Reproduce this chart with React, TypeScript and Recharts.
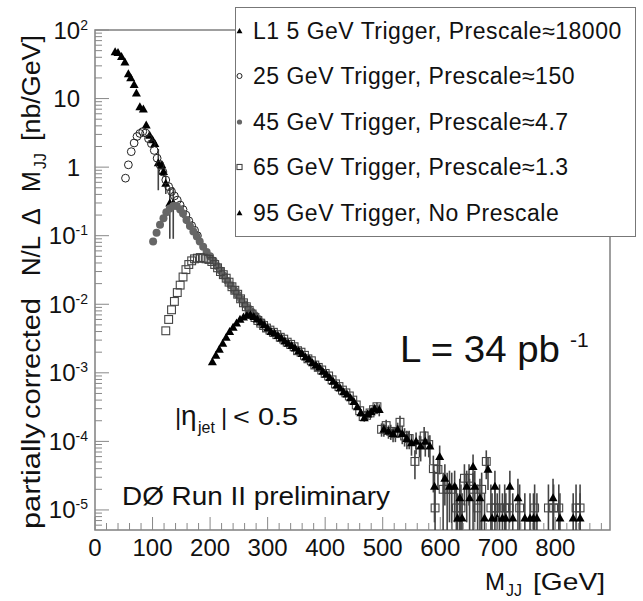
import React from "react";
import { ScatterChart, Scatter, XAxis, YAxis, ErrorBar, Legend, ReferenceArea } from "recharts";

const FONT = '"Liberation Sans", Arial, Helvetica, sans-serif';
const Y_MIN = 5.1e-6;
const Y_MAX = 100;
const X_MAX = 895;

// L1 5 GeV trigger, prescale ~18000 (black triangles)
const mL1 = [35, 40, 46, 52, 58, 62, 68, 72, 78, 84, 89, 95, 100, 104, 110, 116, 119, 123, 130, 136];
const vL1 = [48, 47, 41, 34, 23, 20, 16, 12, 7.6, 7.0, 4.1, 2.9, 2.5, 2.2, 1.15, 1.08, 0.86, 0.58, 0.3, 0.3];
const errL1: [number, number][] = [[110, 0.6], [116, 0.15], [119, 0.15], [123, 0.3], [130, 0.7], [136, 0.7]];

// 25 GeV trigger, prescale ~150 (open circles)
const m25 = [53, 58, 63, 68, 73, 78, 83, 88, 93, 98, 103, 108, 113, 118, 123, 128, 133, 138, 143, 148, 153, 158, 163, 168, 173, 178];
const v25 = [0.69, 1.08, 1.68, 2.25, 2.8, 3.1, 3.3, 3.15, 2.6, 2.2, 1.75, 1.35, 1.08, 0.85, 0.65, 0.52, 0.44, 0.38, 0.33, 0.28, 0.24, 0.2, 0.165, 0.14, 0.12, 0.1];

// 45 GeV trigger, prescale ~4.7 (grey dots)
const m45 = [101, 107, 113, 119, 124, 130, 136, 142, 148, 153, 159, 165, 171, 177, 182, 188, 194, 200, 206, 212, 218, 224, 230, 236, 242, 248, 254, 260, 266, 272, 278, 284, 290];
const v45 = [0.082, 0.11, 0.145, 0.18, 0.22, 0.25, 0.27, 0.27, 0.24, 0.21, 0.17, 0.138, 0.115, 0.097, 0.082, 0.069, 0.058, 0.05, 0.043, 0.036, 0.031, 0.026, 0.022, 0.019, 0.016, 0.0138, 0.0118, 0.01, 0.0088, 0.0078, 0.0069, 0.0061, 0.0054];

// 65 GeV trigger, prescale ~1.3 (open squares)
const m65 = [
  123, 128, 133, 138, 143, 148, 153, 158, 163, 168, 173, 178, 183, 188, 193, 198, 203, 208, 213, 218,
  223, 228, 233, 238, 243, 248, 253, 258, 263, 268, 273, 278, 283, 288, 293, 298,
  304, 310, 316, 322, 328, 334, 340, 346, 352, 358, 364, 370, 376, 382, 388, 394, 400, 406, 412, 418,
  424, 430, 436, 442, 448, 454, 460, 466, 472, 478, 484, 490,
  498, 506, 514, 522, 530, 538, 546, 556, 564, 572, 580, 588,
  591, 596, 605, 612, 620, 628, 636, 642, 650, 657, 665, 672, 680, 688, 695, 703, 712, 720, 738, 764,
  788, 797, 806, 836, 843,
];
const v65 = [
  0.0041, 0.006, 0.0083, 0.011, 0.0148, 0.019, 0.025, 0.032, 0.038, 0.043, 0.046, 0.047, 0.048, 0.047, 0.046, 0.045, 0.042, 0.038, 0.034, 0.03,
  0.027, 0.024, 0.021, 0.018, 0.016, 0.014, 0.012, 0.0105, 0.0092, 0.0081, 0.0072, 0.0064, 0.0058, 0.0053, 0.0049, 0.0045,
  0.0042, 0.0039, 0.0036, 0.0033, 0.0031, 0.0028, 0.0026, 0.0024, 0.0021, 0.002, 0.0018, 0.0016, 0.0015, 0.0013, 0.0012, 0.0011, 0.00098, 0.0009, 0.00079, 0.00069,
  0.00063, 0.00056, 0.00051, 0.00046, 0.0004, 0.00034, 0.00028, 0.00023, 0.00024, 0.00026, 0.00029, 0.00032,
  0.00015, 0.00017, 0.00014, 0.00013, 0.00019, 0.00012, 0.00011, 0.000051, 0.00009, 0.00012, 0.00009, 0.00004,
  1.07e-5, 3.9e-5, 2.0e-5, 2.0e-5, 2.0e-5, 1.07e-5, 1.07e-5, 2.9e-5, 2.9e-5, 2.0e-5, 1.07e-5, 2.0e-5, 5.1e-5, 1.07e-5, 1.07e-5, 1.07e-5, 1.07e-5, 1.07e-5, 1.07e-5, 1.07e-5,
  1.07e-5, 1.07e-5, 1.07e-5, 1.07e-5, 1.07e-5,
];
const err65: [number, number][] = [
  [436, 0.08], [442, 0.08], [448, 0.1], [454, 0.1], [460, 0.12], [466, 0.12], [472, 0.15], [478, 0.15], [484, 0.15], [490, 0.15],
  [498, 0.22], [506, 0.22], [514, 0.25], [522, 0.25], [530, 0.25], [538, 0.3], [546, 0.3],
  [556, 0.45], [564, 0.35], [572, 0.35], [580, 0.35], [588, 0.55],
  [591, 1.2], [596, 0.5], [605, 0.75], [612, 0.75], [620, 0.75], [628, 1.2], [636, 1.2], [642, 0.6], [650, 0.6], [657, 0.75],
  [665, 1.2], [672, 0.75], [680, 0.45], [688, 1.2], [695, 1.2], [703, 1.2], [712, 1.2], [720, 1.2], [738, 1.2], [764, 1.2],
  [788, 1.2], [797, 1.2], [806, 1.2], [836, 1.2], [843, 1.2],
];

// 95 GeV trigger, no prescale (black triangles)
const m95 = [
  204, 210, 216, 222, 228, 234, 240, 246, 252, 258, 264, 270, 276, 282, 288, 294, 300,
  306, 312, 318, 324, 330, 336, 342, 348, 354, 360, 366, 372, 378, 384, 390, 396, 402, 408, 414, 420,
  426, 432, 438, 444, 450, 456, 462, 468, 474, 480, 486, 494, 502, 510, 518, 526, 534, 542, 550, 558, 566, 574, 582,
  590, 599, 608, 616, 625, 630, 634, 638, 646, 651, 657, 660, 669, 677, 683, 690, 695, 699, 708, 714,
  721, 726, 735, 747, 756, 762, 768, 796, 808, 831, 843,
];
const v95 = [
  0.00145, 0.0018, 0.0022, 0.0027, 0.0033, 0.004, 0.0046, 0.0053, 0.006, 0.0065, 0.0069, 0.007, 0.0066, 0.0061, 0.0055, 0.005, 0.0045,
  0.004, 0.0038, 0.0035, 0.0032, 0.0029, 0.0027, 0.0025, 0.0023, 0.0021, 0.0019, 0.0017, 0.0016, 0.0014, 0.0013, 0.0012, 0.00105, 0.00096, 0.00085, 0.00075, 0.00066,
  0.0006, 0.00053, 0.00049, 0.00043, 0.00038, 0.00032, 0.00026, 0.00022, 0.00025, 0.00027, 0.0003, 0.00029, 0.00015, 0.00014, 0.00013, 0.00015, 0.00013, 0.00011, 0.000095, 0.0001, 0.000085, 0.0001, 0.000085,
  2.2e-5, 6.0e-5, 2.9e-5, 2.2e-5, 2.2e-5, 7.6e-6, 1.5e-5, 7.6e-6, 2.2e-5, 1.5e-5, 4.3e-5, 2.2e-5, 1.5e-5, 7.6e-6, 3.9e-5, 7.6e-6, 2.2e-5, 7.6e-6, 7.6e-6, 7.6e-6,
  2.2e-5, 7.6e-6, 1.5e-5, 7.6e-6, 7.6e-6, 7.6e-6, 7.6e-6, 1.5e-5, 7.6e-6, 7.6e-6, 7.6e-6,
];
const err95: [number, number][] = [
  [438, 0.08], [444, 0.08], [450, 0.1], [456, 0.1], [462, 0.12], [468, 0.12], [474, 0.15], [480, 0.15], [486, 0.15],
  [494, 0.2], [502, 0.22], [510, 0.22], [518, 0.25], [526, 0.25], [534, 0.3], [542, 0.3], [550, 0.35], [558, 0.35], [566, 0.4], [574, 0.4], [582, 0.45],
  [590, 0.7], [599, 0.45], [608, 0.6], [616, 0.7], [625, 0.7], [630, 1.3], [634, 0.9], [638, 1.3], [646, 0.7], [651, 0.9],
  [657, 0.5], [660, 0.7], [669, 0.9], [677, 1.3], [683, 0.5], [690, 1.3], [695, 0.7], [699, 1.3], [708, 1.3], [714, 1.3],
  [721, 0.7], [726, 1.3], [735, 0.9], [747, 1.3], [756, 1.3], [762, 1.3], [768, 1.3], [796, 0.9], [808, 1.3], [831, 1.3], [843, 1.3],
];

const decades = [-5, -4, -3, -2, -1, 0, 1, 2];
const minorMult = [2, 3, 4, 5, 6, 7, 8, 9];
const xLabels = [0, 100, 200, 300, 400, 500, 600, 700, 800];

const yTicks: number[] = [];
[-6, ...decades].forEach((d) => {
  const base = Math.pow(10, d);
  if (base >= Y_MIN) yTicks.push(base);
  minorMult.forEach((k) => {
    const t = k * base;
    if (t >= Y_MIN && t < Y_MAX) yTicks.push(t);
  });
});
const xTicks: number[] = [];
for (let t = 0; t <= 880; t += 20) xTicks.push(t);

function rows(m: number[], v: number[], err: [number, number][] = []) {
  const eMap = new Map(err);
  return m.map((x, i) => {
    const y = v[i];
    const e = eMap.get(x);
    let bar: [number, number] | null = null;
    if (e) bar = [Math.min(y * e, y - Y_MIN * 1.002), y * e];
    return { m: x, v: y, err: bar };
  });
}

const dataL1 = rows(mL1, vL1, errL1);
const data25 = rows(m25, v25);
const data45 = rows(m45, v45);
const data65 = rows(m65, v65, err65);
const data95 = rows(m95, v95, err95);

type Kind = "tri" | "ocircle" | "dot" | "square";

function marker(kind: Kind, cx: number, cy: number, s = 1) {
  if (kind === "tri")
    return <polygon points={`${cx},${cy - 4.6 * s} ${cx - 4.5 * s},${cy + 3.4 * s} ${cx + 4.5 * s},${cy + 3.4 * s}`} fill="#000" />;
  if (kind === "ocircle") return <circle cx={cx} cy={cy} r={3.9 * s} fill="none" stroke="#222" strokeWidth={1} />;
  if (kind === "dot") return <circle cx={cx} cy={cy} r={4 * s} fill="#666" />;
  return <rect x={cx - 3.9 * s} y={cy - 3.9 * s} width={7.8 * s} height={7.8 * s} fill="none" stroke="#444" strokeWidth={1.1} />;
}

const shapeOf = (kind: Kind) => (p: any) => (p.cx == null ? <g /> : marker(kind, p.cx, p.cy));

const legendItems: { label: string; kind: Kind }[] = [
  { label: "L1 5 GeV Trigger, Prescale≈18000", kind: "tri" },
  { label: "25 GeV Trigger, Prescale≈150", kind: "ocircle" },
  { label: "45 GeV Trigger, Prescale≈4.7", kind: "dot" },
  { label: "65 GeV Trigger, Prescale≈1.3", kind: "square" },
  { label: "95 GeV Trigger, No Prescale", kind: "tri" },
];

function LegendBox() {
  return (
    <div style={{ width: 401, height: 230, boxSizing: "border-box", border: "1.5px solid #777", background: "#fff", position: "relative", fontFamily: FONT }}>
      {legendItems.map((it, i) => (
        <div key={i} style={{ position: "absolute", left: 0, top: 22.75 + i * 45.5 - 14, height: 28, display: "flex", alignItems: "center" }}>
          <svg width={17} height={28}>{marker(it.kind, 3.5, 14, 0.65)}</svg>
          <span style={{ fontSize: 23, letterSpacing: 0.5, color: "#111", whiteSpace: "nowrap", lineHeight: "28px" }}>{it.label}</span>
        </div>
      ))}
    </div>
  );
}

function YTick(p: any) {
  const { x, y, payload } = p;
  const val = payload.value as number;
  const lg = Math.log10(val);
  const major = Math.abs(lg - Math.round(lg)) < 1e-6;
  const exp = Math.round(lg);
  return (
    <g>
      <line x1={x} y1={y} x2={x + (major ? 14 : 7)} y2={y} stroke="#888" strokeWidth={1} />
      {major && (exp === 0 || exp === 1) && (
        <text x={80} y={y + 8.5} textAnchor="end" fontSize={24} fontFamily={FONT} fill="#111">
          {exp === 0 ? "1" : "10"}
        </text>
      )}
      {major && exp !== 0 && exp !== 1 && (
        <text x={88} y={y + 8.5} textAnchor="end" fontSize={24} fontFamily={FONT} fill="#111">
          10
          <tspan fontSize={14} dy={-9}>
            {exp}
          </tspan>
        </text>
      )}
    </g>
  );
}

function XTick(p: any) {
  const { x, y, payload } = p;
  const val = payload.value as number;
  const major = val % 100 === 0;
  return (
    <g>
      <line x1={x} y1={y} x2={x} y2={y - (major ? 13 : 7)} stroke="#888" strokeWidth={1} />
      {major && xLabels.includes(val) && (
        <text x={x} y={y + 26} textAnchor="middle" fontSize={24} fontFamily={FONT} fill="#111">
          {val}
        </text>
      )}
    </g>
  );
}

function Bars({ dataKey }: { dataKey: string }) {
  return <ErrorBar dataKey={dataKey} direction="y" width={0} stroke="#444" strokeWidth={1.6} isAnimationActive={false} />;
}

export default function App() {
  const txt = { fontFamily: FONT, fill: "#111" };
  return (
    <div style={{ position: "absolute", left: 0, top: 0, width: 643, height: 601, background: "#fff" }}>
      <ScatterChart width={643} height={601} margin={{ top: 30, right: 33, bottom: 31, left: 35 }}>
        <XAxis
          type="number"
          dataKey="m"
          domain={[0, X_MAX]}
          allowDataOverflow
          ticks={xTicks}
          interval={0}
          tick={(p: any) => <XTick {...p} />}
          tickLine={false}
          axisLine={false}
          tickSize={0}
          tickMargin={0}
          height={40}
        />
        <YAxis
          type="number"
          dataKey="v"
          scale="log"
          domain={[Y_MIN, Y_MAX]}
          allowDataOverflow
          ticks={yTicks}
          interval={0}
          tick={(p: any) => <YTick {...p} />}
          tickLine={false}
          axisLine={false}
          tickSize={0}
          tickMargin={0}
          width={60}
        />
        <ReferenceArea x1={0} x2={X_MAX} y1={Y_MIN} y2={Y_MAX} fill="none" stroke="#808080" strokeWidth={1.5} />
        <Scatter name="L1 5 GeV" data={dataL1} shape={shapeOf("tri")} isAnimationActive={false}>
          <Bars dataKey="err" />
        </Scatter>
        <Scatter name="25 GeV" data={data25} shape={shapeOf("ocircle")} isAnimationActive={false} />
        <Scatter name="45 GeV" data={data45} shape={shapeOf("dot")} isAnimationActive={false} />
        <Scatter name="65 GeV" data={data65} shape={shapeOf("square")} isAnimationActive={false}>
          <Bars dataKey="err" />
        </Scatter>
        <Scatter name="95 GeV" data={data95} shape={shapeOf("tri")} isAnimationActive={false}>
          <Bars dataKey="err" />
        </Scatter>
        <Legend
          layout="vertical"
          align="center"
          verticalAlign="middle"
          content={() => <LegendBox />}
          wrapperStyle={{ left: 235, top: 7, width: 401, height: 230, margin: 0, padding: 0 }}
        />
      </ScatterChart>
      <svg width={643} height={601} style={{ position: "absolute", left: 0, top: 0, pointerEvents: "none" }}>
        <g transform="translate(40,529) rotate(-90)" fontSize={25} {...txt}>
          <text x={0} y={0} textLength={106} lengthAdjust="spacingAndGlyphs">partially</text>
          <text x={110} y={0} textLength={121} lengthAdjust="spacingAndGlyphs">corrected</text>
          <text x={253} y={0} textLength={40} lengthAdjust="spacingAndGlyphs">N/L</text>
          <text x={304} y={0}>Δ</text>
          <text x={337} y={0}>M</text>
          <text x={360} y={6} fontSize={16}>JJ</text>
          <text x={388} y={0} textLength={106} lengthAdjust="spacingAndGlyphs">[nb/GeV]</text>
        </g>
        <text x={485} y={590} fontSize={24} {...txt}>M</text>
        <text x={506} y={596} fontSize={16} {...txt}>JJ</text>
        <text x={533} y={590} fontSize={24} textLength={72} lengthAdjust="spacingAndGlyphs" {...txt}>[GeV]</text>
        <text x={400} y={362} fontSize={37} textLength={160} lengthAdjust="spacingAndGlyphs" {...txt}>L = 34 pb</text>
        <text x={570} y={347} fontSize={21} {...txt}>-1</text>
        <text x={175} y={425} fontSize={24} {...txt}>|</text>
        <text x={181} y={425} fontSize={28} {...txt}>η</text>
        <text x={198} y={433} fontSize={16} {...txt}>jet</text>
        <text x={221} y={425} fontSize={24} {...txt}>|</text>
        <text x={233} y={425} fontSize={24} textLength={65} lengthAdjust="spacingAndGlyphs" {...txt}>{"< 0.5"}</text>
        <text x={122} y={505} fontSize={25} textLength={268} lengthAdjust="spacingAndGlyphs" {...txt}>DØ Run II preliminary</text>
      </svg>
    </div>
  );
}
